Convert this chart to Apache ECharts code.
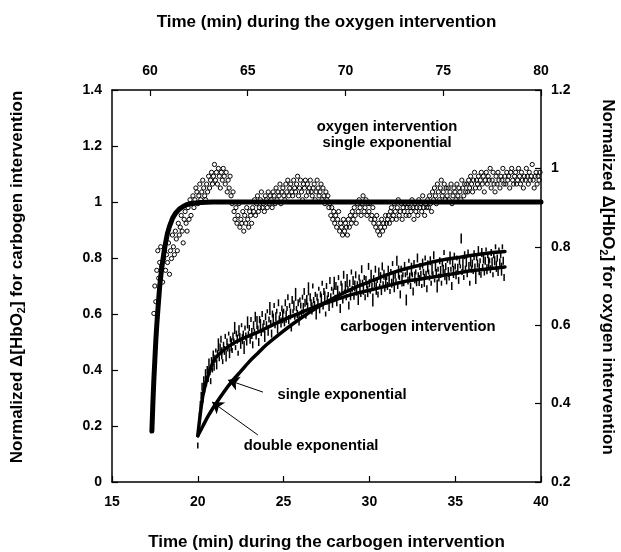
<!DOCTYPE html>
<html>
<head>
<meta charset="utf-8">
<title>Normalized HbO2 response: carbogen vs oxygen intervention</title>
<script src="https://cdn.jsdelivr.net/npm/echarts@6/dist/echarts.min.js"></script>
<style>
  html, body { margin: 0; padding: 0; background: #fff; }
  #chart { width: 621px; height: 552px; }
</style>
</head>
<body>
<div id="chart"></div>
<script>
// ---- axis ranges and tick labels ----
const carbogenTimeTicks = [15, 20, 25, 30, 35, 40];
const oxygenTimeTicks = [60, 65, 70, 75, 80];
const oxygenTimeRange = [58.06, 80];
const carbogenAxisRange = [0, 1.4];
const oxygenAxisRange = [0.2, 1.2];

// ---- oxygen intervention: measured samples (min 60.20 onwards, every 0.05 min) ----
const oxygenStart = 60.20;
const oxygenStep = 0.05;
const oxygenValues = [
  0.63,0.70,0.66,0.74,0.79,0.72,0.76,0.80,0.75,0.71,0.77,0.79,0.74,0.78,0.76,0.81,0.73,0.79,0.77,0.83,
  0.80,0.78,0.84,0.82,0.79,0.86,0.83,0.85,0.88,0.84,0.81,0.87,0.89,0.86,0.84,0.90,0.87,0.92,0.88,0.91,
  0.93,0.90,0.92,0.95,0.94,0.91,0.93,0.96,0.92,0.94,0.97,0.95,0.93,0.92,0.96,0.94,0.98,0.95,0.97,0.99,
  0.96,0.98,1.01,0.97,0.99,0.96,1.00,0.98,0.95,0.99,0.97,1.00,0.98,0.96,0.99,0.94,0.97,0.95,0.98,0.93,
  0.91,0.94,0.89,0.87,0.90,0.86,0.88,0.91,0.85,0.87,0.86,0.89,0.84,0.88,0.86,0.90,0.87,0.85,0.89,0.88,
  0.86,0.90,0.89,0.92,0.88,0.91,0.93,0.89,0.90,0.92,0.94,0.90,0.91,0.89,0.93,0.92,0.90,0.94,0.91,0.93,
  0.92,0.90,0.94,0.93,0.91,0.95,0.92,0.94,0.93,0.96,0.91,0.94,0.95,0.93,0.92,0.96,0.94,0.97,0.93,0.95,
  0.96,0.94,0.93,0.97,0.95,0.94,0.96,0.98,0.93,0.95,0.97,0.94,0.92,0.96,0.95,0.97,0.93,0.96,0.94,0.95,
  0.97,0.94,0.93,0.95,0.96,0.92,0.94,0.97,0.95,0.93,0.94,0.96,0.92,0.95,0.93,0.91,0.94,0.92,0.93,0.90,
  0.91,0.88,0.90,0.87,0.89,0.86,0.88,0.85,0.87,0.89,0.84,0.86,0.85,0.83,0.87,0.84,0.86,0.85,0.83,0.87,
  0.85,0.88,0.86,0.89,0.87,0.90,0.88,0.86,0.91,0.89,0.92,0.90,0.88,0.91,0.93,0.89,0.90,0.92,0.88,0.91,
  0.89,0.91,0.87,0.88,0.90,0.86,0.87,0.85,0.88,0.84,0.86,0.83,0.85,0.87,0.84,0.86,0.85,0.88,0.86,0.87,
  0.88,0.86,0.89,0.90,0.87,0.88,0.91,0.89,0.87,0.90,0.92,0.88,0.89,0.91,0.87,0.90,0.89,0.91,0.88,0.90,
  0.91,0.88,0.90,0.89,0.92,0.90,0.87,0.91,0.89,0.90,0.88,0.92,0.90,0.91,0.89,0.93,0.90,0.88,0.91,0.90,
  0.92,0.90,0.93,0.91,0.89,0.94,0.92,0.95,0.93,0.91,0.96,0.94,0.92,0.95,0.97,0.93,0.94,0.96,0.92,0.95,
  0.93,0.95,0.92,0.94,0.96,0.91,0.93,0.95,0.94,0.92,0.96,0.93,0.95,0.94,0.92,0.97,0.95,0.93,0.96,0.94,
  0.96,0.94,0.97,0.95,0.98,0.96,0.94,0.97,0.99,0.95,0.97,0.96,0.98,0.95,0.97,0.99,0.96,0.98,0.94,0.97,
  0.99,0.96,0.98,0.97,1.00,0.95,0.97,0.99,0.96,0.94,0.98,0.96,0.99,0.97,0.95,0.98,0.97,1.00,0.96,0.98,
  0.96,0.99,0.97,0.98,0.95,0.99,1.00,0.97,0.96,0.98,0.99,0.96,0.97,1.00,0.98,0.96,0.99,0.97,0.95,0.98,
  0.97,1.00,0.98,0.96,0.99,0.97,0.98,1.01,0.97,0.95,0.98,0.99,0.96,0.98,0.97,0.99
];

// ---- oxygen intervention: single exponential fit [min, value] ----
const oxygenFit = [
  [60.10,0.33],[60.15,0.40],[60.20,0.46],[60.25,0.51],[60.30,0.56],[60.35,0.60],
  [60.40,0.635],[60.50,0.70],[60.60,0.745],[60.70,0.78],[60.80,0.81],[60.90,0.835],
  [61.00,0.852],[61.15,0.872],[61.30,0.885],[61.50,0.896],[61.70,0.903],[61.90,0.908],
  [62.20,0.911],[62.60,0.913],[63.20,0.914],[80.00,0.914]
];

// ---- carbogen intervention: measured samples (min 20.00 onwards, every 0.05 min) ----
const carbogenStart = 20.00;
const carbogenStep = 0.05;
const carbogenValues = [
  0.13,0.19,0.24,0.27,0.31,0.34,0.29,0.36,0.33,0.38,0.35,0.40,0.37,0.42,0.39,0.36,0.43,0.40,0.45,0.41,
  0.44,0.47,0.42,0.46,0.49,0.44,0.48,0.51,0.46,0.43,0.49,0.47,0.52,0.45,0.50,0.48,0.53,0.46,0.51,0.49,
  0.47,0.52,0.50,0.55,0.48,0.53,0.51,0.46,0.54,0.52,0.49,0.56,0.51,0.53,0.48,0.55,0.52,0.50,0.57,0.53,
  0.55,0.51,0.58,0.53,0.49,0.56,0.54,0.59,0.52,0.57,0.55,0.50,0.58,0.56,0.53,0.60,0.55,0.57,0.52,0.59,
  0.56,0.61,0.54,0.58,0.62,0.57,0.53,0.60,0.58,0.63,0.56,0.59,0.61,0.55,0.64,0.58,0.60,0.57,0.62,0.59,
  0.61,0.57,0.64,0.59,0.62,0.66,0.58,0.63,0.60,0.55,0.65,0.61,0.63,0.59,0.67,0.62,0.60,0.64,0.58,0.65,
  0.63,0.60,0.66,0.62,0.68,0.64,0.59,0.65,0.63,0.69,0.61,0.66,0.64,0.62,0.70,0.65,0.63,0.67,0.60,0.66,
  0.64,0.69,0.62,0.67,0.65,0.71,0.63,0.68,0.66,0.60,0.70,0.65,0.67,0.63,0.72,0.66,0.69,0.64,0.68,0.71,
  0.66,0.70,0.64,0.68,0.73,0.67,0.62,0.71,0.69,0.65,0.74,0.68,0.70,0.66,0.72,0.69,0.63,0.71,0.67,0.75,
  0.69,0.72,0.66,0.70,0.74,0.68,0.71,0.65,0.73,0.70,0.67,0.76,0.71,0.69,0.73,0.66,0.72,0.70,0.68,0.77,
  0.71,0.68,0.74,0.70,0.65,0.73,0.71,0.76,0.69,0.72,0.67,0.75,0.70,0.73,0.68,0.77,0.71,0.74,0.69,0.72,
  0.73,0.70,0.76,0.72,0.68,0.75,0.71,0.78,0.73,0.69,0.74,0.72,0.79,0.70,0.75,0.73,0.67,0.76,0.72,0.74,
  0.71,0.77,0.74,0.65,0.75,0.72,0.79,0.73,0.70,0.76,0.74,0.68,0.78,0.73,0.75,0.71,0.80,0.74,0.72,0.77,
  0.74,0.70,0.78,0.75,0.72,0.80,0.74,0.69,0.77,0.75,0.73,0.79,0.71,0.76,0.74,0.81,0.72,0.77,0.75,0.70,
  0.76,0.73,0.79,0.75,0.71,0.78,0.76,0.82,0.74,0.77,0.72,0.79,0.75,0.73,0.80,0.76,0.70,0.78,0.75,0.81,
  0.77,0.74,0.80,0.76,0.72,0.79,0.77,0.87,0.75,0.78,0.73,0.81,0.76,0.79,0.74,0.82,0.77,0.71,0.79,0.76,
  0.78,0.75,0.81,0.77,0.73,0.80,0.78,0.83,0.76,0.79,0.74,0.82,0.77,0.80,0.75,0.79,0.83,0.76,0.81,0.78,
  0.79,0.76,0.82,0.78,0.74,0.81,0.79,0.84,0.77,0.80,0.75,0.83,0.78,0.81,0.76,0.84,0.79,0.73
];

// ---- carbogen intervention: fitted curves [min, value] ----
const carbogenDoubleFit = [
  [20.00,0.165],[20.10,0.22],[20.20,0.27],[20.30,0.31],[20.45,0.35],[20.60,0.38],
  [20.80,0.415],[21.00,0.44],[21.30,0.46],[21.70,0.48],[22.20,0.50],[22.90,0.52],
  [23.50,0.535],[24.00,0.55],[25.00,0.58],[26.00,0.605],[27.00,0.63],[28.00,0.65],
  [29.00,0.67],[30.00,0.685],[31.00,0.70],[32.00,0.715],[33.00,0.725],[34.00,0.735],
  [35.00,0.745],[36.00,0.755],[37.00,0.762],[37.90,0.768]
];
const carbogenSingleFit = [
  [20.00,0.165],[20.30,0.20],[20.60,0.235],[21.00,0.275],[21.50,0.32],[22.00,0.36],
  [22.50,0.395],[23.00,0.43],[23.50,0.46],[24.00,0.49],[25.00,0.54],[26.00,0.585],
  [27.00,0.625],[28.00,0.66],[29.00,0.69],[30.00,0.715],[31.00,0.74],[32.00,0.76],
  [33.00,0.775],[34.00,0.79],[35.00,0.80],[36.00,0.81],[37.00,0.818],[37.90,0.823]
];

// ---- annotations, placed in carbogen coordinates [min, value, text] ----
const annotations = [
  [31.03, 1.268, 'oxygen intervention'],
  [31.03, 1.211, 'single exponential'],
  [32.83, 0.554, 'carbogen intervention'],
  [28.40, 0.311, 'single exponential'],
  [26.60, 0.129, 'double exponential']
];
const arrowSingle = [[23.80, 0.321], [21.76, 0.364]];
const arrowDouble = [[23.50, 0.168], [20.83, 0.286]];

// ---- build series data from the sample arrays ----
const oxygenData = oxygenValues.map((v, i) => [+(oxygenStart + i * oxygenStep).toFixed(2), v]);
const carbogenData = carbogenValues.map((v, i) => [+(carbogenStart + i * carbogenStep).toFixed(2), v]);
const dashLengths = [6, 9, 5, 11, 7, 8, 4, 10, 6, 13, 5, 8, 7, 12, 5];

const FONT = '"Liberation Sans", Arial, Helvetica, sans-serif';
const axisLineStyle = { show: true, onZero: false, lineStyle: { color: '#000', width: 1.5 } };
const axisTickStyle = { show: true, inside: true, length: 6, lineStyle: { color: '#000', width: 1.2 } };
const tickLabel = (margin) => ({
  color: '#000', fontFamily: FONT, fontWeight: 'bold', fontSize: 14, margin: margin
});
const nameStyle = (extra) => Object.assign({
  color: '#000', fontFamily: FONT, fontWeight: 'bold', fontSize: 17,
  rich: {
    sub: { color: '#000', fontFamily: FONT, fontWeight: 'bold', fontSize: 11, padding: [9, 0, 0, 0] }
  }
}, extra);

const chart = echarts.init(document.getElementById('chart'), null, { renderer: 'canvas' });

chart.setOption({
  backgroundColor: '#fff',
  animation: false,
  grid: { left: 112, right: 80, top: 90, bottom: 70, containLabel: false, outerBoundsMode: 'none' },
  xAxis: [
    {
      type: 'value', position: 'bottom',
      min: carbogenTimeTicks[0], max: carbogenTimeTicks[carbogenTimeTicks.length - 1], interval: 5,
      name: 'Time (min) during the carbogen intervention',
      nameLocation: 'middle', nameGap: 52, nameTextStyle: nameStyle({}),
      axisLine: axisLineStyle, axisTick: axisTickStyle,
      axisLabel: tickLabel(13), splitLine: { show: false }
    },
    {
      type: 'value', position: 'top',
      min: oxygenTimeRange[0], max: oxygenTimeRange[1],
      name: 'Time (min) during the oxygen intervention',
      nameLocation: 'middle', nameGap: 59, nameTextStyle: nameStyle({}),
      axisLine: axisLineStyle,
      axisTick: Object.assign({ customValues: oxygenTimeTicks }, axisTickStyle),
      axisLabel: Object.assign({ customValues: oxygenTimeTicks }, tickLabel(12)),
      splitLine: { show: false }
    }
  ],
  yAxis: [
    {
      type: 'value', position: 'left',
      min: carbogenAxisRange[0], max: carbogenAxisRange[1], interval: 0.2,
      name: 'Normalized Δ[HbO{sub|2}] for carbogen intervention',
      nameLocation: 'middle', nameRotate: 90, nameGap: 85,
      nameTextStyle: nameStyle({ padding: [0, 0, 0, 18] }),
      axisLine: axisLineStyle, axisTick: axisTickStyle,
      axisLabel: tickLabel(10), splitLine: { show: false }
    },
    {
      type: 'value', position: 'right',
      min: oxygenAxisRange[0], max: oxygenAxisRange[1], interval: 0.2,
      name: 'Normalized Δ[HbO{sub|2}] for oxygen intervention',
      nameLocation: 'middle', nameRotate: -90, nameGap: 57,
      nameTextStyle: nameStyle({ padding: [0, 18, 0, 0] }),
      axisLine: axisLineStyle, axisTick: axisTickStyle,
      axisLabel: tickLabel(10), splitLine: { show: false }
    }
  ],
  series: [
    {
      name: 'carbogen data', type: 'scatter', xAxisIndex: 0, yAxisIndex: 0,
      data: carbogenData, symbol: 'rect',
      symbolSize: (val, p) => [1.5, dashLengths[p.dataIndex % dashLengths.length]],
      itemStyle: { color: '#000', opacity: 1 }, silent: true, z: 2
    },
    {
      name: 'oxygen data', type: 'scatter', xAxisIndex: 1, yAxisIndex: 1,
      data: oxygenData, symbol: 'circle', symbolSize: 4.2,
      itemStyle: { color: 'rgba(255,255,255,0)', borderColor: '#000', borderWidth: 1, opacity: 1 },
      silent: true, z: 2
    },
    {
      name: 'oxygen single exponential', type: 'line', xAxisIndex: 1, yAxisIndex: 1,
      data: oxygenFit, showSymbol: false, smooth: false,
      lineStyle: { color: '#000', width: 5, cap: 'round', join: 'round' }, silent: true, z: 4
    },
    {
      name: 'carbogen double exponential', type: 'line', xAxisIndex: 0, yAxisIndex: 0,
      data: carbogenDoubleFit, showSymbol: false, smooth: 0.3,
      lineStyle: { color: '#000', width: 3.5, cap: 'round' }, silent: true, z: 4
    },
    {
      name: 'carbogen single exponential', type: 'line', xAxisIndex: 0, yAxisIndex: 0,
      data: carbogenSingleFit, showSymbol: false, smooth: 0.3,
      lineStyle: { color: '#000', width: 3.5, cap: 'round' }, silent: true, z: 4
    },
    {
      name: 'annotations', type: 'scatter', xAxisIndex: 0, yAxisIndex: 0,
      symbolSize: 0, silent: true, z: 6,
      itemStyle: { opacity: 1 },
      data: annotations.map(a => ({ value: [a[0], a[1]], name: a[2] })),
      label: {
        show: true, position: 'inside', formatter: '{b}', opacity: 1,
        color: '#000', fontFamily: FONT, fontWeight: 'bold', fontSize: 14.8
      },
      markLine: {
        silent: true, animation: false,
        symbol: ['none', 'arrow'], symbolSize: 11,
        label: { show: false },
        lineStyle: { color: '#000', width: 1, type: 'solid', opacity: 1 },
        itemStyle: { color: '#000' },
        emphasis: { disabled: true },
        data: [
          [{ coord: arrowSingle[0] }, { coord: arrowSingle[1] }],
          [{ coord: arrowDouble[0] }, { coord: arrowDouble[1] }]
        ]
      }
    }
  ]
});
</script>
</body>
</html>
